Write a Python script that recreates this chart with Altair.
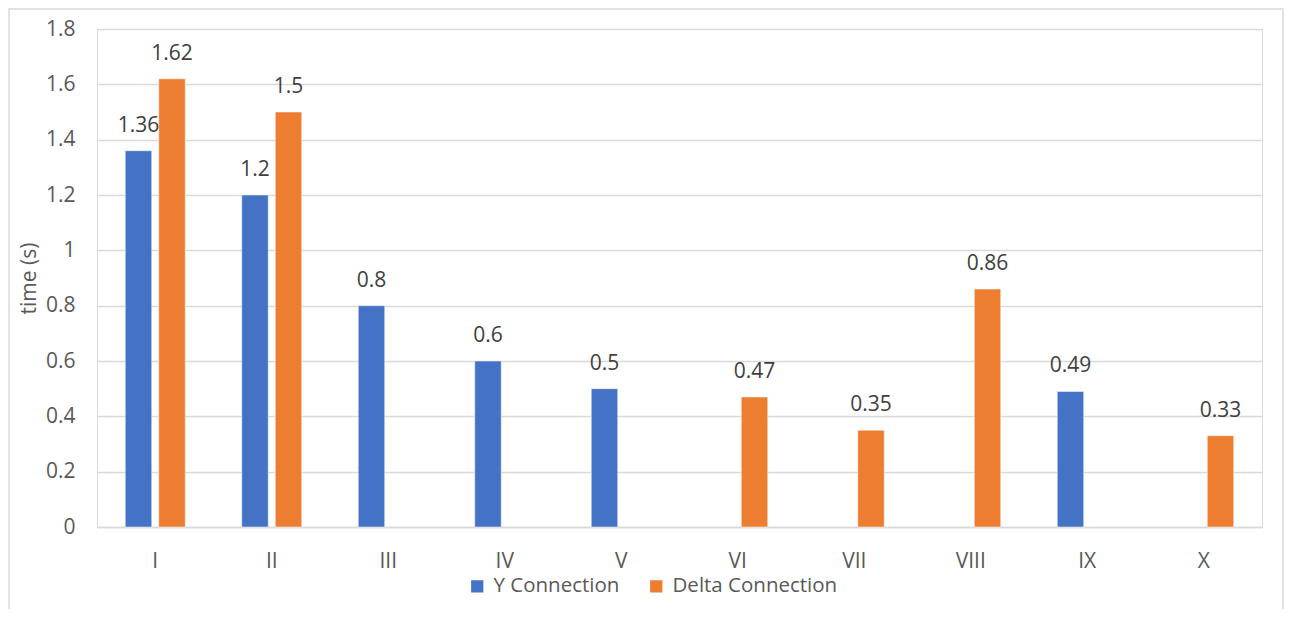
import altair as alt
import pandas as pd

categories = ["I", "II", "III", "IV", "V", "VI", "VII", "VIII", "IX", "X"]
y_connection = [1.36, 1.2, 0.8, 0.6, 0.5, None, None, None, 0.49, None]
delta_connection = [1.62, 1.5, None, None, None, 0.47, 0.35, 0.86, None, 0.33]
series_names = ["Y Connection", "Delta Connection"]
series_colors = ["#4472C4", "#ED7D31"]
y_ticks = [0, 0.2, 0.4, 0.6, 0.8, 1.0, 1.2, 1.4, 1.6, 1.8]

rows = []
for c, yv, dv in zip(categories, y_connection, delta_connection):
    if yv is not None:
        rows.append({"cat": c, "series": series_names[0], "value": yv})
    if dv is not None:
        rows.append({"cat": c, "series": series_names[1], "value": dv})
df = pd.DataFrame(rows)
df["label"] = df["value"].map(lambda v: f"{v:g}")

FONT = "Open Sans"
GREY = "#595959"
FS = 21

x_enc = alt.X("cat:N", sort=categories, title=None,
              scale=alt.Scale(paddingInner=0.485, paddingOuter=0.2425),
              axis=alt.Axis(labelAngle=0, ticks=False, domainColor="#d9d9d9",
                            domainWidth=1.5, labelPadding=23, labelFontSize=FS,
                            labelColor=GREY, labelFont=FONT))
xo_enc = alt.XOffset("series:N", sort=series_names,
                     scale=alt.Scale(domain=series_names, paddingInner=0.21, paddingOuter=0))
y_enc = alt.Y("value:Q", title="time (s)",
              scale=alt.Scale(domain=[0, 1.8], nice=False, zero=True),
              axis=alt.Axis(values=y_ticks, ticks=False, domain=False, gridColor="#d9d9d9",
                            gridWidth=1.5, labelPadding=22, labelFontSize=FS,
                            labelColor=GREY, labelFont=FONT, titleFont=FONT,
                            titleFontSize=FS, titleFontWeight="normal", titleColor=GREY,
                            titleX=-58, format="~g"))
color_enc = alt.Color("series:N", sort=series_names,
                      scale=alt.Scale(domain=series_names, range=series_colors),
                      legend=alt.Legend(title=None, orient="none", direction="horizontal",
                                        legendX=370, legendY=547, symbolType="square",
                                        symbolSize=150, symbolStrokeWidth=0,
                                        labelFontSize=20.5, labelFont=FONT, labelColor=GREY,
                                        labelLimit=400, columnPadding=26, labelOffset=6))

bars = alt.Chart(df).mark_bar(stroke="white", strokeWidth=0.5).encode(
    x=x_enc, xOffset=xo_enc, y=y_enc, color=color_enc)

labels = alt.Chart(df).mark_text(baseline="bottom", dy=-15, fontSize=FS, font=FONT,
                                 color="#404040").encode(
    x=alt.X("cat:N", sort=categories), xOffset=xo_enc, y="value:Q", text="label:N")

border = alt.Chart(pd.DataFrame({"k": [0]})).mark_rect(
    fill=None, stroke="#d9d9d9", strokeWidth=1.5).encode(
    x=alt.value(-88), x2=alt.value(1186), y=alt.value(-20), y2=alt.value(600))

chart = alt.layer(border, bars, labels).properties(
    width=1165, height=498,
    autosize=alt.AutoSizeParams(type="none"),
    padding={"left": 89, "top": 21, "right": 22, "bottom": 82},
).configure_view(stroke=None).configure(background="white")

chart.save("out.html", embed_options={"renderer": "svg", "actions": False})
